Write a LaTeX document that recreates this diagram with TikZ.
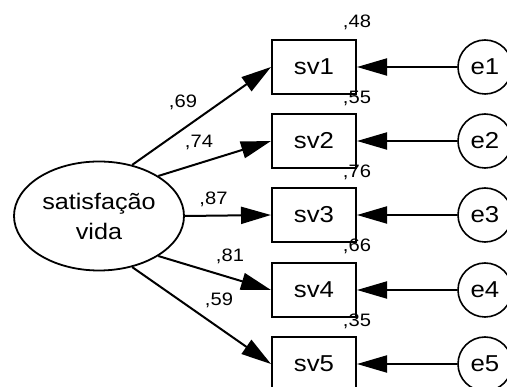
\documentclass[tikz,border=0pt]{standalone}
\usepackage{fontspec}
\setmainfont[FakeStretch=1.12]{Liberation Sans}
\usetikzlibrary{shapes.geometric,arrows.meta}
\begin{document}
\begin{tikzpicture}[x=1pt,y=-1pt,
  every node/.style={inner sep=0pt},
  obs/.style={draw,line width=2pt,minimum width=84pt,minimum height=54pt,font=\fontsize{23}{28}\selectfont},
  err/.style={draw,circle,line width=1.6pt,minimum size=54pt,font=\fontsize{23}{28}\selectfont},
  lat/.style={draw,ellipse,line width=1.8pt,minimum width=170pt,minimum height=109pt,align=center,font=\fontsize{22.5}{30}\selectfont},
  arr/.style={line width=2pt,-{Triangle[length=30pt,width=17pt]}},
  coef/.style={anchor=base,font=\fontsize{18}{20}\selectfont}
]
\useasboundingbox (0,0) rectangle (507,387);
\node[lat] (ell) at (99,216) {satisfação\\vida};
\foreach \i/\y in {1/67,2/141,3/215,4/290,5/364}{
  \node[obs] (sv\i) at (314,\y) {sv\i};
  \node[err] (e\i) at (485,\y) {e\i};
  \draw[arr] (e\i) -- (sv\i);
}
\node[coef] (r1) at (357,28) {,48};
\node[coef] (r2) at (357,104) {,55};
\node[coef] (r3) at (357,177.5) {,76};
\node[coef] (r4) at (357,252) {,66};
\node[coef] (r5) at (357,326.5) {,35};
\draw[arr] (ell.57.5) -- (sv1.west);
\draw[arr] (ell.34.5) -- (sv2.west);
\draw[arr] (ell.east) -- (sv3.west);
\draw[arr] (ell.-34.5) -- (sv4.west);
\draw[arr] (ell.-57.5) -- (sv5.west);
\node[coef] (l1) at (183,108) {,69};
\node[coef] (l2) at (199,148) {,74};
\node[coef] (l3) at (213.5,205) {,87};
\node[coef] (l4) at (230,262) {,81};
\node[coef] (l5) at (219,306) {,59};
\end{tikzpicture}
\end{document}
